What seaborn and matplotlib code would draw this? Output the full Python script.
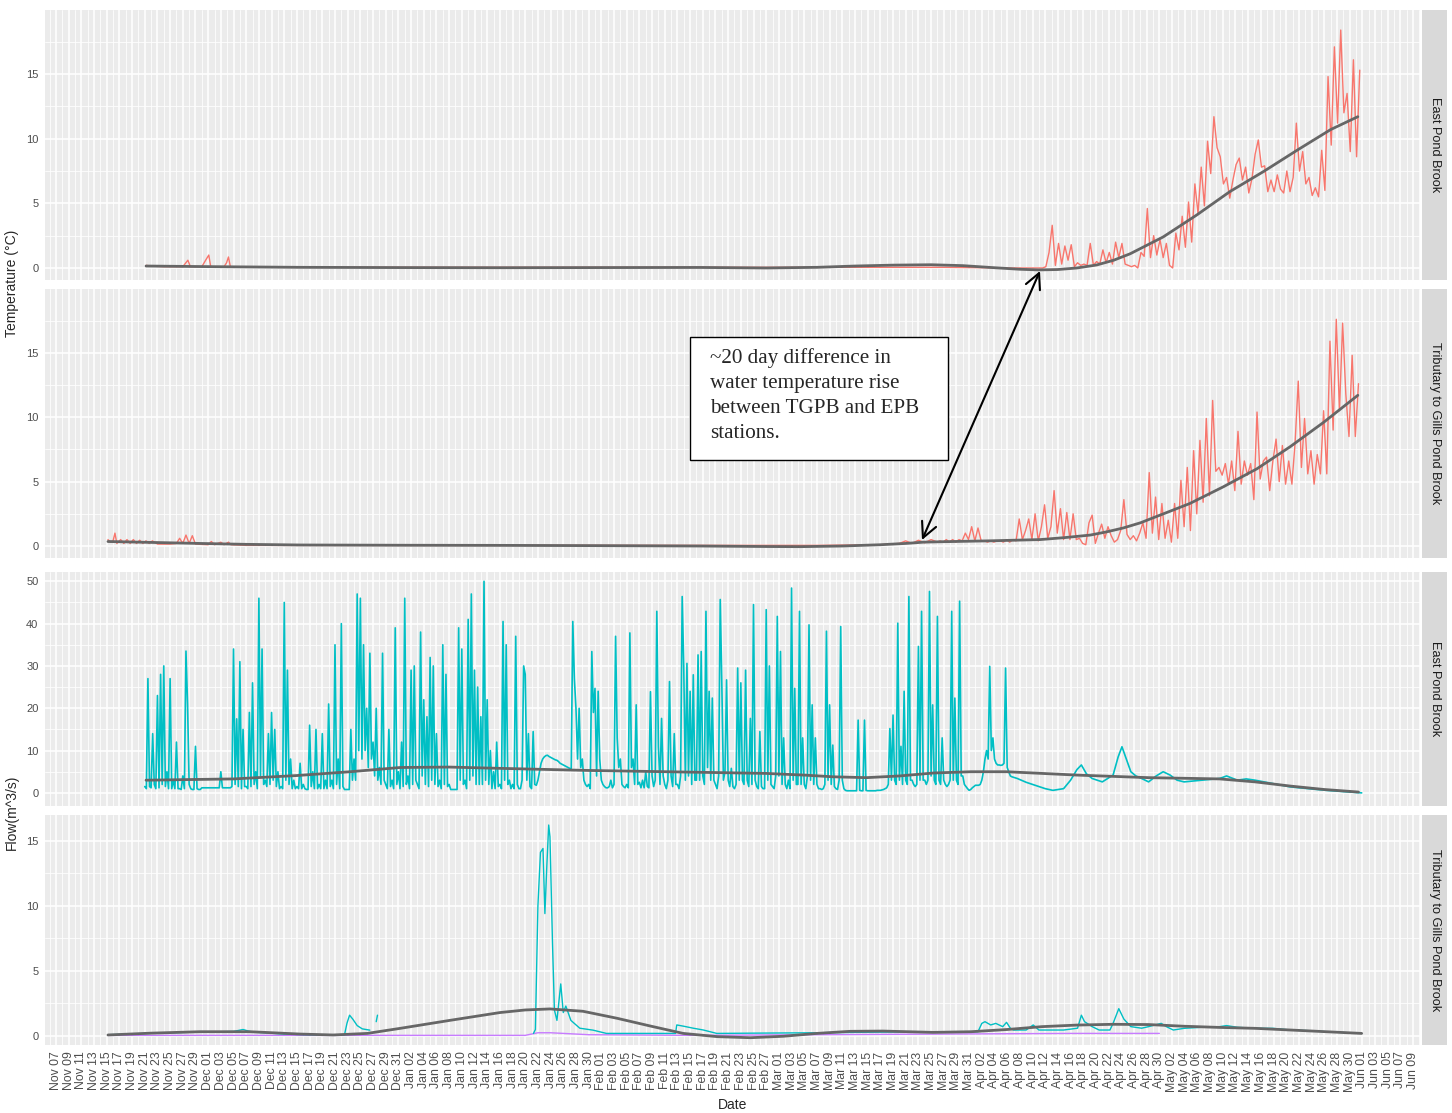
import numpy as np
import pandas as pd
import matplotlib
matplotlib.use("Agg")
import matplotlib.pyplot as plt
import matplotlib.dates as mdates
from matplotlib.patches import Rectangle, FancyArrowPatch
import seaborn as sns

# ---------------------------------------------------------------- data
# all x values are days after 2018-11-07
BASE = pd.Timestamp("2018-11-07")

# East Pond Brook water temperature (deg C)
epb_temp_sparse_day = [14.2, 15, 17, 20, 20.8, 21.2, 23, 23.6, 24.1, 24.4, 26.5, 26.9, 27.2, 27.5,
                       35, 60, 90, 120, 140, 150, 153.1]
epb_temp_sparse_val = [0.2, 0.15, 0.1, 0.1, 0.6, 0.1, 0.1, 0.6, 1.0, 0.1, 0.1, 0.4, 0.85, 0.1,
                       0.05, 0.05, 0.05, 0.05, 0.05, 0.0, 0.0]
epb_temp_rise_start = 153.6   # 12-hourly readings from here
epb_temp_rise = [0.0, 0.0, 0.0, 0.0, 0.0, 0.1, 1.2, 3.3, 0.2, 1.9,
                 0.3, 1.7, 0.6, 1.8, 0.1, 0.4, 0.2, 0.3, 0.2, 1.9,
                 0.2, 0.5, 0.3, 1.4, 0.4, 1.2, 0.3, 2.0, 0.8, 1.9,
                 0.3, 0.2, 0.1, 0.2, 0.0, 1.2, 0.9, 4.6, 0.8, 2.5,
                 1.0, 2.2, 0.8, 1.9, 0.2, 0.0, 2.7, 1.4, 4.0, 1.6,
                 5.1, 2.0, 6.5, 4.2, 7.8, 4.8, 9.8, 7.3, 11.7, 9.3,
                 8.6, 6.5, 7.0, 5.4, 6.8, 8.0, 8.5, 6.8, 7.8, 5.8,
                 6.9, 8.8, 9.9, 7.8, 7.9, 5.9, 6.8, 5.9, 7.2, 6.1,
                 5.8, 7.5, 5.9, 7.0, 11.2, 7.5, 9.0, 6.5, 7.0, 5.6,
                 6.2, 5.5, 9.1, 6.0, 14.8, 9.5, 17.1, 11.2, 18.4, 12.0,
                 13.5, 9.0, 16.1, 8.6, 15.3]
epb_temp_smooth_day = [14.2, 25, 38.5, 55, 70, 85, 101.6, 112, 120, 126, 132, 138, 143, 148, 152,
                       155, 158, 161, 164.1, 166.8, 169.4, 174.6, 179.9, 185.1, 190.4, 195.7, 201, 205.3]
epb_temp_smooth_val = [0.15, 0.1, 0.05, 0.03, 0.02, 0.03, 0.04, 0.0, 0.05, 0.15, 0.22, 0.25, 0.18, 0.02, -0.1,
                       -0.15, -0.12, 0.0, 0.23, 0.6, 1.1, 2.4, 4.1, 5.9, 7.45, 9.1, 10.7, 11.7]

# Tributary to Gills Pond Brook water temperature (deg C)
tgpb_temp_sparse_day = [8.2, 8.6, 9.0, 9.3, 9.6, 10.2, 10.7, 11.2, 11.7, 12.2, 12.7, 13.2, 13.7, 14.2,
                        14.7, 15.2, 16, 18, 19, 19.5, 20, 20.5, 21, 21.5, 22, 24, 24.5, 25, 26, 26.5,
                        27.2, 27.6, 30, 60, 90, 120, 130, 133, 134, 135, 136, 137, 138, 139]
tgpb_temp_sparse_val = [0.5, 0.3, 0.4, 1.0, 0.2, 0.5, 0.2, 0.5, 0.2, 0.5, 0.2, 0.45, 0.2, 0.4,
                        0.2, 0.4, 0.15, 0.15, 0.2, 0.6, 0.2, 0.85, 0.2, 0.8, 0.15, 0.1, 0.35, 0.1, 0.3, 0.1,
                        0.3, 0.1, 0.05, 0.05, 0.05, 0.05, 0.1, 0.2, 0.4, 0.2, 0.45, 0.25, 0.5, 0.3]
tgpb_temp_rise_start = 139.4  # 12-hourly readings from here
tgpb_temp_rise = [0.4, 0.3, 0.5, 0.3, 0.5, 0.3, 0.5, 0.4, 1.0, 0.5,
                  1.5, 0.4, 1.4, 0.4, 0.4, 0.3, 0.4, 0.3, 0.4, 0.4,
                  0.3, 0.5, 0.3, 0.5, 0.4, 2.1, 0.5, 1.2, 2.1, 0.5,
                  2.5, 0.4, 1.5, 3.2, 0.6, 1.5, 4.3, 1.0, 2.9, 0.5,
                  2.6, 0.5, 2.5, 0.5, 0.6, 0.2, 0.1, 1.8, 2.4, 0.2,
                  1.0, 1.7, 0.6, 1.5, 0.8, 0.3, 0.5, 1.2, 3.6, 0.9,
                  0.5, 0.8, 0.4, 1.0, 1.8, 0.6, 5.7, 1.0, 3.8, 0.5,
                  3.3, 0.6, 2.0, 0.3, 3.3, 0.6, 5.1, 1.5, 6.1, 1.2,
                  7.4, 2.5, 8.2, 3.4, 9.9, 3.9, 11.3, 5.8, 6.1, 5.5,
                  6.4, 4.8, 6.6, 4.3, 8.9, 4.8, 6.6, 5.5, 6.4, 3.6,
                  10.4, 5.2, 6.6, 6.9, 4.3, 6.6, 8.3, 5.0, 7.8, 4.8,
                  6.6, 4.8, 8.0, 12.8, 6.1, 9.9, 5.6, 7.4, 4.8, 7.1,
                  5.6, 10.5, 5.6, 15.9, 9.0, 17.6, 10.5, 17.3, 11.8, 8.5,
                  14.8, 8.5, 12.6]
tgpb_temp_smooth_day = [8.2, 15, 22.7, 30, 38.5, 55, 70, 85, 101.6, 112, 117.4, 124, 130, 134, 136.8, 139.4,
                        147, 155.2, 159, 163.1, 165.7, 168.3, 171, 173.6, 178.8, 184.1, 189.4, 194.6, 199.9, 205.3]
tgpb_temp_smooth_val = [0.35, 0.28, 0.2, 0.13, 0.08, 0.06, 0.05, 0.03, 0.0, -0.04, -0.05, 0.0, 0.1, 0.2, 0.3, 0.33,
                        0.4, 0.5, 0.65, 0.85, 1.1, 1.4, 1.8, 2.3, 3.3, 4.6, 6.0, 7.7, 9.6, 11.7]

# East Pond Brook flow (m^3/s), 6-hourly readings, one row per day
epb_flow_start = 14.0
epb_flow_nov_dec = [
    [1.5, 1, 27, 1.5], [1.2, 14, 2, 1], [23, 1.2, 28, 2], [30, 1.5, 5, 1], [27, 1, 3, 1],
    [12, 1, 1, 0.8], [4, 1, 33.5, 21], [2, 1, 0.8, 0.8], [11, 1, 0.8, 0.8], [1.2, 1.2, 1.2, 1.2],
    [1.2, 1.2, 1.2, 1.2], [1.2, 1.2, 1.2, 1.2], [5, 1.2, 1.2, 1.2], [1.2, 1.2, 1.2, 1.5], [34, 2, 17.5, 1.5],
    [31, 1, 15, 1.5], [1.5, 1, 19, 1.5], [26, 2, 5, 1], [46, 4, 34, 2], [3, 1.5, 14, 2],
    [19, 3, 15, 1.5], [5, 1, 1.5, 1], [45, 3, 29, 2], [8, 1, 3, 1], [1.5, 1, 7, 1],
    [2, 1, 0.8, 0.8], [16, 1.5, 5, 1], [15, 1, 2, 1], [14, 1, 3, 1], [21, 1.5, 3, 1],
    [35, 2, 8, 1], [40, 1.5, 0.8, 0.8], [0.8, 0.8, 15, 3], [8, 3, 47, 10], [46, 8, 35, 10],
    [20, 6, 33, 8], [12, 4, 20, 3], [6, 2, 33, 3], [2, 1, 15, 1.5], [3, 1, 39, 2],
    [5, 1, 12, 1.5]]
epb_flow_jan = [
    [46, 2, 4, 1], [29, 2, 30, 3], [2, 1, 38, 4], [22, 2, 18, 1.5], [32, 3, 30, 2],
    [14, 1.5, 3, 1], [35, 2, 28, 1.5], [2, 0.8, 0.8, 0.8], [0.8, 0.8, 39, 3], [34, 2, 3, 1],
    [41, 3, 47, 4], [29, 2, 25, 2], [18, 2, 50, 3], [22, 2, 10, 1], [5, 1, 12, 1.5],
    [2, 1, 40.5, 3], [35, 2, 3, 1], [2, 1, 37, 2], [1, 1, 3, 30], [28, 3, 14, 1.5],
    [1, 14.5, 2, 1.8], [3, 5, 7, 8], [8.5, 8.8, 8.9, 8.6], [8.4, 8.2, 8, 7.8], [7.7, 7.4, 7, 6.8],
    [6.6, 6.4, 6.2, 6], [5.8, 5.5, 40.5, 27], [20, 8, 20, 6], [8, 3, 2, 1.5], [2, 1, 33.4, 19],
    [24.7, 4, 24, 8]]
epb_flow_feb = [
    [3, 2, 1.5, 1.2], [1.2, 1.5, 3, 1.2], [2, 37, 13, 6], [8, 2, 1.5, 1.2], [2, 1.2, 37.8, 6],
    [8, 2, 20.8, 2], [2.5, 1.2, 3, 1.2], [5, 1.5, 1.2, 23.9], [4, 1.5, 3, 42.9], [11, 2, 17.6, 4],
    [2, 1, 3, 26.3], [4, 1.5, 14, 2], [2, 1, 4, 46.4], [29.5, 3, 30.6, 4], [24, 2, 27.9, 3],
    [3, 32.6, 3, 33.4], [4, 2, 42.9, 6], [24, 3, 22.4, 3], [2, 1, 4, 45.7], [26, 3, 5, 26.7],
    [3, 1.5, 5.8, 1.5], [1, 2, 29.5, 3], [26, 3, 2, 29], [3, 1.5, 17.6, 2], [44.5, 3, 1.5, 1],
    [14.5, 1.5, 1, 1], [43.3, 3, 30, 2], [1.5, 1, 4, 41.7]]
epb_flow_mar_apr = [
    [4, 33.4, 2, 13], [2, 1, 3, 1], [48.4, 3, 24.7, 2], [2, 42.9, 2, 13], [2, 1, 4, 39.7],
    [3, 20.8, 2, 13], [2, 1, 1, 0.8], [1, 2, 38.2, 3], [20.8, 2, 11.3, 1.5], [1, 0.8, 3, 39.3],
    [3, 1, 0.6, 0.5], [0.5, 0.5, 0.5, 0.5], [0.5, 0.5, 17.2, 0.6], [0.5, 0.5, 17.2, 0.6], [0.5, 0.5, 0.5, 0.5],
    [0.5, 0.5, 0.6, 0.6], [0.6, 0.7, 0.8, 1], [1.2, 2, 15.2, 3], [18.4, 3, 2, 40.1], [3, 11, 2, 24],
    [3, 2, 46.4, 3], [3, 2, 1.5, 2], [34.6, 3, 42.9, 3], [3, 2, 3, 47.6], [4, 20.8, 3, 2],
    [41.7, 3, 2, 13], [3, 2, 1.5, 2], [3, 42.9, 3, 22.4], [3, 2, 45.3, 4], [4, 2, 1.5, 1],
    [0.6, 0.8, 1.2, 1.5], [1.8, 1.8, 1.8, 2], [3, 5, 8, 10], [8, 29.9, 10, 13], [8, 7, 6.6, 6.6],
    [6.5, 6.6, 7, 29.5], [6, 5, 4, 3.8]]
epb_flow_tail_day = [151.6, 153, 154.4, 156, 157.2, 158.9, 160, 161, 161.7, 162.5,
                     163.4, 165, 166.7, 167.5, 168.1, 169.5, 170.3, 171.2, 172.3, 173.5,
                     174.6, 175.7, 176.8, 177.9, 179.3, 180.7, 182.1, 183.5, 184.6, 186.3,
                     187.7, 189.1, 190.5, 191.9, 193.3, 194.7, 197.5, 200.3, 203, 205.9]
epb_flow_tail_val = [3.4, 2.5, 1.8, 1, 0.6, 1, 3, 5.5, 6.6, 4.5,
                     3.4, 2.6, 4.2, 8.5, 10.9, 5, 4, 3.4, 2.6, 4,
                     5, 4.2, 3, 2.6, 2.8, 3, 3.2, 3.4, 4, 3,
                     3.3, 3, 2.6, 2.2, 1.8, 1.4, 1, 0.6, 0.3, 0.0]
epb_flow_smooth_day = [14.2, 28, 38, 46.4, 54.3, 62, 70, 84, 96.3, 112, 118, 122.6, 127.8, 133, 138.4, 144.3,
                       149.9, 161.1, 172.3, 183.5, 189.1, 194.7, 200, 205.4]
epb_flow_smooth_val = [3.0, 3.3, 4.1, 5.0, 6.0, 6.1, 5.8, 5.3, 5.0, 4.6, 4.2, 3.8, 3.6, 4.0, 4.7, 5.0,
                       5.0, 4.2, 3.6, 3.3, 2.6, 1.6, 0.8, 0.2]

# Tributary to Gills Pond Brook flow (m^3/s) - three logged segments
tgpb_flow_a_day = [8.2, 10, 13, 16, 19, 22, 25, 28, 29.5, 30.2, 31, 33, 36, 40, 43, 45.5,
                   45.9, 46.3, 46.8, 47.5, 48.3, 49.5]
tgpb_flow_a_val = [0.1, 0.12, 0.18, 0.22, 0.26, 0.3, 0.32, 0.35, 0.5, 0.4, 0.3, 0.25, 0.15, 0.1, 0.08, 0.1,
                   1.0, 1.6, 1.3, 0.8, 0.55, 0.45]
tgpb_flow_b_day = [50.5, 50.7]
tgpb_flow_b_val = [1.1, 1.6]
tgpb_flow_c_day = [75.3, 75.6, 76.0, 76.4, 76.8, 77.1, 77.4, 77.7, 77.9, 78.3,
                   78.6, 79.0, 79.6, 80.0, 80.4, 81.2, 82.6, 84.7, 86.8, 90,
                   95, 97.7, 97.9, 99, 100.5, 102.1, 104.2, 110, 120, 130,
                   140, 145.4, 146, 146.5, 147.4, 148.2, 149.3, 149.9, 150.5, 151,
                   153, 154.1, 155, 158.9, 161.1, 161.7, 162.2, 163.4, 164.5, 166.2,
                   166.7, 167.6, 168.4, 169.5, 171.2, 172.3, 174.3, 175.1, 176.2, 177.9,
                   180.7, 183.5, 184.6, 186.3, 189.1, 191.9, 194.7, 197.5, 200.3, 205.9]
tgpb_flow_c_val = [0.2, 0.5, 10, 14.1, 14.4, 9.4, 13, 16.2, 15.3, 7.1,
                   2.0, 1.2, 4.0, 1.8, 2.3, 1.2, 0.6, 0.45, 0.2, 0.2,
                   0.2, 0.2, 0.85, 0.75, 0.6, 0.46, 0.2, 0.22, 0.25, 0.3,
                   0.33, 0.33, 0.97, 1.1, 0.85, 0.97, 0.72, 1.05, 0.6, 0.46,
                   0.46, 0.85, 0.46, 0.46, 0.6, 1.6, 1.1, 0.72, 0.46, 0.46,
                   0.97, 2.1, 1.3, 0.72, 0.6, 0.72, 0.97, 0.72, 0.46, 0.59,
                   0.67, 0.72, 0.8, 0.67, 0.59, 0.59, 0.46, 0.41, 0.33, 0.2]
tgpb_other_day = [8.2, 30, 60, 74, 76, 78, 84, 100, 120, 140, 160, 174]
tgpb_other_val = [0.05, 0.05, 0.05, 0.05, 0.25, 0.25, 0.1, 0.05, 0.1, 0.15, 0.2, 0.2]
tgpb_flow_smooth_day = [8.2, 15, 22.7, 30.6, 38.5, 43.7, 49.1, 54.3, 62.1, 70,
                        74, 77.9, 83.1, 88.5, 93.7, 98.9, 104.3, 109.5, 114.7, 120, 125.2,
                        130.4, 138.3, 144.3, 150, 155.5, 161, 166.7, 172.3, 177.9, 183.5,
                        189.1, 194.7, 200.3, 205.9]
tgpb_flow_smooth_val = [0.08, 0.22, 0.33, 0.33, 0.15, 0.08, 0.2, 0.59, 1.2, 1.8,
                        2.0, 2.08, 1.9, 1.36, 0.77, 0.2, -0.05, -0.13, -0.02, 0.2, 0.36,
                        0.38, 0.28, 0.33, 0.5, 0.72, 0.84, 0.9, 0.88, 0.75, 0.66,
                        0.59, 0.46, 0.33, 0.2]

strip_labels = ["East Pond Brook", "Tributary to Gills Pond Brook",
                "East Pond Brook", "Tributary to Gills Pond Brook"]
annotation_text = "~20 day difference in\nwater temperature rise\nbetween TGPB and EPB\nstations."

# ---------------------------------------------------------------- helpers
def to_dates(days):
    return BASE + pd.to_timedelta(np.asarray(days, dtype=float), unit="D")

def regular_days(start, n, step):
    return start + step * np.arange(n)

epb_temp_day = np.concatenate([epb_temp_sparse_day,
                               regular_days(epb_temp_rise_start, len(epb_temp_rise), 0.5)])
epb_temp_val = np.concatenate([epb_temp_sparse_val, epb_temp_rise])
tgpb_temp_day = np.concatenate([tgpb_temp_sparse_day,
                                regular_days(tgpb_temp_rise_start, len(tgpb_temp_rise), 0.5)])
tgpb_temp_val = np.concatenate([tgpb_temp_sparse_val, tgpb_temp_rise])
epb_flow_grid = np.concatenate([np.ravel(epb_flow_nov_dec), np.ravel(epb_flow_jan),
                                np.ravel(epb_flow_feb), np.ravel(epb_flow_mar_apr)])
epb_flow_day = np.concatenate([regular_days(epb_flow_start, len(epb_flow_grid), 0.25), epb_flow_tail_day])
epb_flow_val = np.concatenate([epb_flow_grid, epb_flow_tail_val])

# ---------------------------------------------------------------- style
sns.set_theme(style="darkgrid")
plt.rcParams["font.family"] = ["Liberation Sans", "DejaVu Sans"]

RED, TEAL, PURPLE, SMOOTH = "#F8766D", "#00BFC4", "#C77CFF", "#666666"
W, H = 1452, 1113
fig = plt.figure(figsize=(W / 100, H / 100), dpi=100)

panels = [(10, 280), (289, 558), (572, 806), (815, 1045)]
axes = [fig.add_axes([45 / W, 1 - b / H, 1375 / W, (b - t) / H]) for t, b in panels]

def draw(ax, days, vals, color, lw):
    sns.lineplot(x=to_dates(days), y=np.asarray(vals, float), ax=ax, color=color,
                 linewidth=lw, estimator=None, sort=False, legend=False)

draw(axes[0], epb_temp_day, epb_temp_val, RED, 1.0)
draw(axes[0], epb_temp_smooth_day, epb_temp_smooth_val, SMOOTH, 2.0)
draw(axes[1], tgpb_temp_day, tgpb_temp_val, RED, 1.0)
draw(axes[1], tgpb_temp_smooth_day, tgpb_temp_smooth_val, SMOOTH, 2.0)
draw(axes[2], epb_flow_day, epb_flow_val, TEAL, 1.2)
draw(axes[2], epb_flow_smooth_day, epb_flow_smooth_val, SMOOTH, 2.0)
draw(axes[3], tgpb_other_day, tgpb_other_val, PURPLE, 1.0)
draw(axes[3], tgpb_flow_a_day, tgpb_flow_a_val, TEAL, 1.0)
draw(axes[3], tgpb_flow_b_day, tgpb_flow_b_val, TEAL, 1.0)
draw(axes[3], tgpb_flow_c_day, tgpb_flow_c_val, TEAL, 1.0)
draw(axes[3], tgpb_flow_smooth_day, tgpb_flow_smooth_val, SMOOTH, 2.0)

major_dates = pd.date_range("2018-11-07", "2019-06-09", freq="2D")
minor_dates = pd.date_range("2018-11-06", "2019-06-10", freq="2D")
ylims = [(-0.93, 19.95), (-0.93, 19.95), (-3.1, 52.2), (-0.69, 16.97)]
ymaj = [[0, 5, 10, 15], [0, 5, 10, 15], [0, 10, 20, 30, 40, 50], [0, 5, 10, 15]]
ymin = [[2.5, 7.5, 12.5, 17.5], [2.5, 7.5, 12.5, 17.5], [5, 15, 25, 35, 45], [2.5, 7.5, 12.5]]

for i, ax in enumerate(axes):
    ax.set_facecolor("#EBEBEB")
    for s in ax.spines.values():
        s.set_visible(False)
    ax.set_axisbelow(True)
    ax.set_xlim(to_dates([-1.73, 215.1]))
    ax.set_ylim(*ylims[i])
    ax.set_xticks(major_dates)
    ax.set_xticks(minor_dates, minor=True)
    ax.set_yticks(ymaj[i])
    ax.set_yticks(ymin[i], minor=True)
    ax.grid(which="major", color="white", linewidth=1.1)
    ax.grid(which="minor", color="white", linewidth=0.55)
    ax.set_xlabel("")
    ax.set_ylabel("")
    ax.tick_params(axis="y", which="major", length=2.7, width=0.8, color="#333333",
                   labelsize=8, labelcolor="#4D4D4D", pad=2)
    ax.tick_params(axis="both", which="minor", length=0)
    ax.xaxis.set_major_formatter(mdates.DateFormatter("%b %d"))
    if i < 3:
        ax.tick_params(axis="x", which="major", length=0, labelbottom=False)
    else:
        ax.tick_params(axis="x", which="major", length=2.7, width=0.8, color="#333333",
                       labelsize=8.8, labelcolor="#4D4D4D", labelrotation=90, pad=2)
    # facet strip on the right
    ax.add_patch(Rectangle((1 + 2 / 1375, 0), 25 / 1375, 1, transform=ax.transAxes,
                           facecolor="#D9D9D9", edgecolor="none", clip_on=False))
    ax.text(1 + 14.5 / 1375, 0.5, strip_labels[i], transform=ax.transAxes, rotation=-90,
            ha="center", va="center", fontsize=9.2, color="#1A1A1A")

def fx(px):
    return px / W

def fy(py):
    return 1 - py / H

fig.text(fx(12), fy(283), "Temperature (°C)", rotation=90, ha="center", va="center", fontsize=10)
fig.text(fx(12), fy(812), "Flow(m^3/s)", rotation=90, ha="center", va="center", fontsize=10)
fig.text(fx(733), fy(1105), "Date", ha="center", va="center", fontsize=10)

# annotation box and double arrow
fig.add_artist(Rectangle((fx(690), fy(460)), fx(258), 123 / H, transform=fig.transFigure,
                         facecolor="white", edgecolor="black", linewidth=1.0, zorder=10))
fig.text(fx(710), fy(348), annotation_text, family=["Liberation Serif", "DejaVu Serif"],
         fontsize=15.2, va="top", ha="left", linespacing=1.42, zorder=11)
fig.add_artist(FancyArrowPatch((fx(1040), fy(271)), (fx(922), fy(540)), transform=fig.transFigure,
                               arrowstyle="<->,head_length=0.5,head_width=0.25", mutation_scale=22,
                               linewidth=1.5, color="black", shrinkA=0, shrinkB=0, zorder=12))

fig.savefig("out.png", dpi=100)
